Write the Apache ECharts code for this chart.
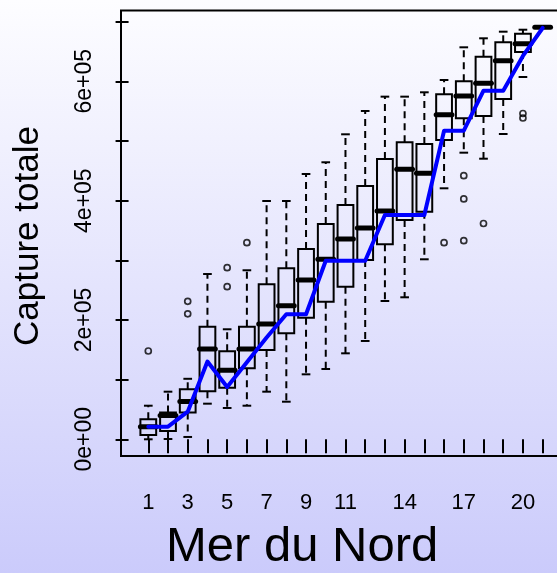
<!DOCTYPE html>
<html>
<head>
<meta charset="utf-8">
<script src="https://cdn.jsdelivr.net/npm/echarts@6/dist/echarts.min.js"></script>
<style>
  html, body { margin: 0; padding: 0; }
  #chart { width: 557px; height: 573px; }
</style>
</head>
<body>
<div id="chart"></div>
<script>
// Catch per area (1..21), summarised as boxplot statistics
const categories = [1, 2, 3, 4, 5, 6, 7, 8, 9, 10, 11, 12, 13, 14, 15, 16, 17, 18, 19, 20, 21];
const whiskerLow  = [0, 500, 3900, 59700, 52500, 56300, 79800, 63000, 108900, 117800, 144100, 164800, 231800, 238000, 301700, 420700, 480400, 470300, 511700, 607200, 690500];
const quartile1   = [7200, 13900, 44900, 80600, 86500, 119000, 149700, 177700, 203800, 230600, 255800, 300500, 326800, 367600, 381500, 501700, 538000, 541900, 570400, 649200, 690500];
const medians     = [21100, 39900, 63400, 151200, 115800, 151200, 193300, 223900, 267000, 301700, 335700, 354200, 382700, 452600, 445900, 543900, 575400, 596700, 634600, 663100, 690500];
const quartile3   = [33500, 44900, 83800, 188700, 147500, 188700, 259800, 286600, 319000, 360900, 392700, 424600, 469800, 497800, 495000, 578200, 600000, 641300, 665400, 679800, 690500];
const whiskerHigh = [56300, 79800, 101400, 277000, 184400, 283300, 399400, 399400, 444700, 464300, 511200, 550300, 574300, 574300, 581600, 602200, 657000, 672100, 683200, 686500, 690500];

// Outlying values, listed per area
const outlierAreas  = [1, 3, 3, 5, 5, 6, 16, 17, 17, 17, 18, 20, 20];
const outlierValues = [148000, 231300, 210300, 287600, 255800, 329500, 329500, 441800, 402800, 332900, 361700, 546100, 538500];

// Reference capture curve (blue)
const referenceCurve = [21100, 21100, 46300, 130400, 87700, 129100, 170600, 209500, 209500, 299200, 299200, 299200, 376000, 376000, 376000, 517200, 517200, 584300, 584300, 642500, 689400];

// Axis ticks and labels
const yTickValues  = [0, 100000, 200000, 300000, 400000, 500000, 600000, 700000];
const yLabelValues = [0, 200000, 400000, 600000];
const yLabelTexts  = ['0e+00', '2e+05', '4e+05', '6e+05'];
const xLabelValues = [1, 3, 5, 7, 9, 11, 14, 17, 20];

const FONT = 'Liberation Sans';

const boxData = categories.map((c, i) => [c, whiskerLow[i], quartile1[i], medians[i], quartile3[i], whiskerHigh[i]]);
const outlierData = outlierAreas.map((a, i) => [a, outlierValues[i]]);
const curveData = categories.map((c, i) => [c, referenceCurve[i]]);

const BOX_HALF = 0.4;    // half box width, in category units
const CAP_HALF = 0.22;   // half staple width

function renderBox(params, api) {
  const x = api.value(0);
  const lo = api.coord([x, api.value(1)]);
  const q1 = api.coord([x, api.value(2)]);
  const md = api.coord([x, api.value(3)]);
  const q3 = api.coord([x, api.value(4)]);
  const hi = api.coord([x, api.value(5)]);
  const left = api.coord([x - BOX_HALF, 0])[0];
  const right = api.coord([x + BOX_HALF, 0])[0];
  const capL = api.coord([x - CAP_HALF, 0])[0];
  const capR = api.coord([x + CAP_HALF, 0])[0];
  const cx = lo[0];
  const solid = { stroke: '#000', lineWidth: 2, fill: null };
  const dashed = { stroke: '#000', lineWidth: 2, lineDash: [7, 5], fill: null };
  const children = [];
  if (hi[1] < q3[1]) {
    children.push({ type: 'line', shape: { x1: cx, y1: q3[1], x2: cx, y2: hi[1] }, style: dashed });
    children.push({ type: 'line', shape: { x1: capL, y1: hi[1], x2: capR, y2: hi[1] }, style: solid });
  }
  if (lo[1] > q1[1]) {
    children.push({ type: 'line', shape: { x1: cx, y1: q1[1], x2: cx, y2: lo[1] }, style: dashed });
    children.push({ type: 'line', shape: { x1: capL, y1: lo[1], x2: capR, y2: lo[1] }, style: solid });
  }
  if (q1[1] - q3[1] > 0.5) {
    children.push({ type: 'rect', shape: { x: left, y: q3[1], width: right - left, height: q1[1] - q3[1] }, style: solid });
  }
  children.push({ type: 'line', shape: { x1: left, y1: md[1], x2: right, y2: md[1] },
    style: { stroke: '#000', lineWidth: 5, lineCap: 'round', fill: null } });
  return { type: 'group', children: children };
}

const chart = echarts.init(document.getElementById('chart'), null, { renderer: 'canvas' });

chart.setOption({
  animation: false,
  backgroundColor: new echarts.graphic.LinearGradient(0, 0, 0, 1, [
    { offset: 0, color: '#fdfdff' },
    { offset: 1, color: '#cbcbfb' }
  ]),
  grid: {
    left: 121, top: 10.5, width: 448, bottom: 117,
    outerBoundsMode: 'none', containLabel: false,
    show: true, borderColor: '#000', borderWidth: 2, backgroundColor: 'transparent'
  },
  xAxis: {
    type: 'value', min: -0.384, max: 22.336,
    splitLine: { show: false },
    axisLine: { show: false },
    axisTick: { show: true, customValues: categories, length: 14, inside: false, lineStyle: { color: '#000', width: 2 } },
    axisLabel: {
      show: true, customValues: xLabelValues, margin: 36,
      fontFamily: FONT, fontSize: 22, color: '#000',
      formatter: v => String(v)
    }
  },
  yAxis: {
    type: 'value', min: -28000, max: 718700,
    splitLine: { show: false },
    axisLine: { show: false },
    axisTick: { show: true, customValues: yTickValues, length: 13, lineStyle: { color: '#000', width: 2 } },
    axisLabel: {
      show: true, customValues: yLabelValues, rotate: 90, margin: 25,
      fontFamily: FONT, fontSize: 23, color: '#000',
      formatter: v => yLabelTexts[yLabelValues.indexOf(v)]
    }
  },
  graphic: [
    {
      type: 'text', x: 28, y: 236, rotation: Math.PI / 2,
      style: { text: 'Capture totale', font: '35px ' + FONT, fill: '#000', align: 'center', verticalAlign: 'middle' }
    },
    {
      type: 'text', x: 166, y: 547,
      style: { text: 'Mer du Nord', font: '49px ' + FONT, fill: '#000', align: 'left', verticalAlign: 'middle' }
    }
  ],
  series: [
    {
      type: 'custom', renderItem: renderBox, data: boxData, clip: false,
      encode: { x: 0, y: [1, 2, 3, 4, 5] }, z: 2
    },
    {
      type: 'scatter', data: outlierData, symbol: 'circle', symbolSize: 6,
      itemStyle: { color: 'rgba(0,0,0,0)', borderColor: '#000', borderWidth: 1.7 }, z: 3
    },
    {
      type: 'line', data: curveData, showSymbol: false, symbol: 'none',
      lineStyle: { color: '#0000ff', width: 4, cap: 'round', join: 'round' }, z: 4
    }
  ]
});
</script>
</body>
</html>
